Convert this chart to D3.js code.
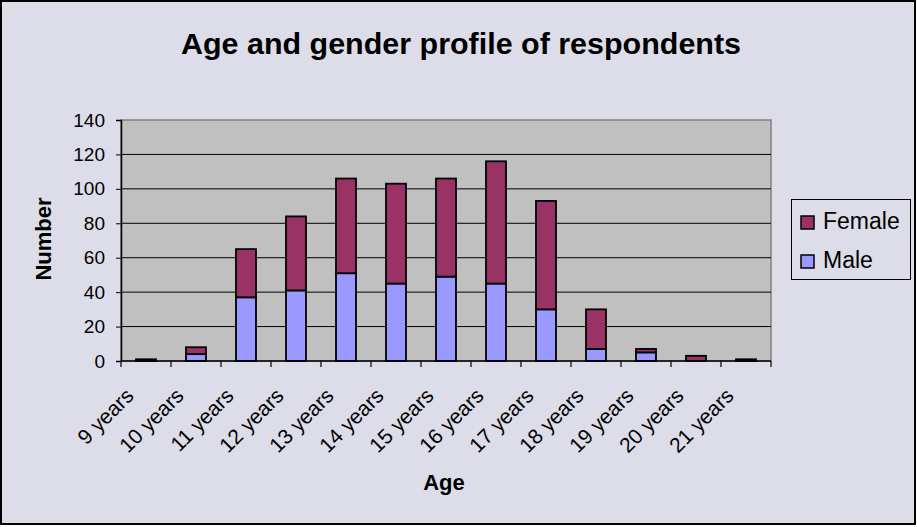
<!DOCTYPE html>
<html><head><meta charset="utf-8">
<script src="https://cdn.jsdelivr.net/npm/d3@7"></script>
<style>body{margin:0;background:#fff;font-family:Arial,"Liberation Sans",sans-serif}</style>
</head><body><svg id="c" width="917" height="527"></svg>
<script>
const categories = ["9 years","10 years","11 years","12 years","13 years","14 years","15 years","16 years","17 years","18 years","19 years","20 years","21 years"];
const male   = [0, 4, 37, 41, 51, 45, 49, 45, 30, 7, 5, 0, 0];
const female = [1, 4, 28, 43, 55, 58, 57, 71, 63, 23, 2, 3, 1];
const yTicks = [0,20,40,60,80,100,120,140];
const seriesNames = ["Female","Male"];
const colors = {Male:"#9999ff", Female:"#993366"};

const svg = d3.select("#c");
const W=917,H=527;
svg.append("rect").attr("x",1).attr("y",1).attr("width",W-3).attr("height",H-4)
  .attr("fill","#dcdde8").attr("stroke","#000").attr("stroke-width",2);

const L=121,R=771,T=120,B=361;
const x = d3.scaleBand().domain(categories).range([L,R]).paddingInner(0.6).paddingOuter(0.3);
const y = d3.scaleLinear().domain([0,140]).range([B,T]);

svg.append("rect").attr("x",L).attr("y",T).attr("width",R-L).attr("height",B-T)
  .attr("fill","#c0c0c0").attr("stroke","#808080").attr("stroke-width",1.5);

// gridlines
svg.append("g").selectAll("line").data(yTicks.slice(1,-1)).join("line")
  .attr("x1",L).attr("x2",R).attr("y1",d=>y(d)).attr("y2",d=>y(d))
  .attr("stroke","#000").attr("stroke-width",1);

// stacked bars
const rows = categories.map((c,i)=>({cat:c, Male:male[i], Female:female[i]}));
const stack = d3.stack().keys(["Male","Female"])(rows);
svg.append("g").selectAll("g").data(stack).join("g")
  .attr("fill",d=>colors[d.key])
  .selectAll("rect").data(d=>d).join("rect")
  .filter(d=>d[1]-d[0]>0)
  .attr("x",d=>x(d.data.cat)).attr("width",x.bandwidth())
  .attr("y",d=>y(d[1])).attr("height",d=>y(d[0])-y(d[1]))
  .attr("stroke","#000").attr("stroke-width",1.8);

// y axis
const ya = svg.append("g").attr("transform",`translate(${L},0)`)
  .call(d3.axisLeft(y).tickValues(yTicks).tickSize(5).tickPadding(11));
ya.select(".domain").attr("stroke","#000").attr("stroke-width",1.5);
ya.selectAll(".tick line").attr("stroke","#000");
ya.selectAll("text").attr("font-size",19).attr("font-family","Arial, Liberation Sans").attr("fill","#000");

// x axis
const step = x.step();
svg.append("line").attr("x1",L).attr("x2",R).attr("y1",B).attr("y2",B).attr("stroke","#000").attr("stroke-width",1.5);
const bounds = categories.map(c=>x(c)-step*0.3).concat([x(categories[categories.length-1])+x.bandwidth()+step*0.3]);
svg.append("g").selectAll("line").data(bounds).join("line")
  .attr("x1",d=>d).attr("x2",d=>d).attr("y1",B).attr("y2",B+6).attr("stroke","#000").attr("stroke-width",1.2);
svg.append("g").selectAll("text").data(categories).join("text")
  .attr("transform",d=>`translate(${x(d)+x.bandwidth()/2-11},${B+36}) rotate(-45)`)
  .attr("text-anchor","end").attr("font-size",21).attr("fill","#000").text(d=>d);

// titles
svg.append("text").attr("x",461).attr("y",54).attr("text-anchor","middle")
  .attr("font-size",30).attr("font-weight","bold").attr("textLength",560).attr("lengthAdjust","spacingAndGlyphs")
  .text("Age and gender profile of respondents");
svg.append("text").attr("x",444).attr("y",490).attr("text-anchor","middle")
  .attr("font-size",22).attr("font-weight","bold").text("Age");
svg.append("text").attr("transform","translate(51,239) rotate(-90)").attr("text-anchor","middle")
  .attr("font-size",22).attr("font-weight","bold").text("Number");

// legend
const lg = svg.append("g");
lg.append("rect").attr("x",791.5).attr("y",199.5).attr("width",119).attr("height",80)
  .attr("fill","#dcdde8").attr("stroke","#000").attr("stroke-width",1);
const items = lg.selectAll("g").data(seriesNames).join("g")
  .attr("transform",(d,i)=>`translate(801,${216+i*39})`);
items.append("rect").attr("width",13).attr("height",13).attr("fill",d=>colors[d]).attr("stroke","#000").attr("stroke-width",1.5);
items.append("text").attr("x",22).attr("y",13).attr("font-size",23).text(d=>d);
</script></body></html>
